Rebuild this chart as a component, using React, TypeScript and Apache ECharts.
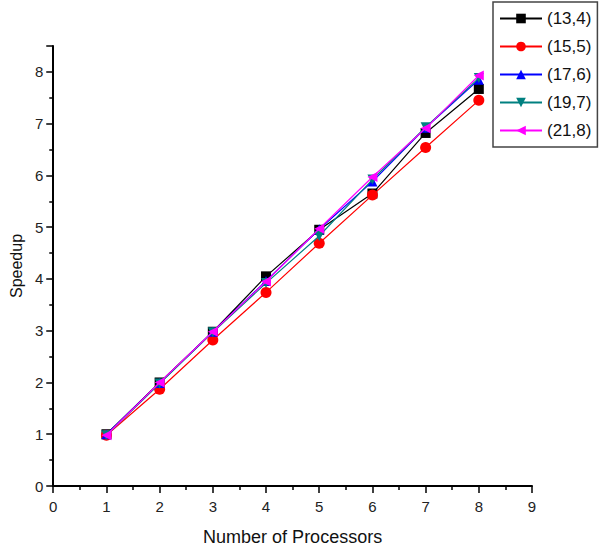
import React, { useEffect, useRef } from "react";
import * as echarts from "echarts";

const processors = [1, 2, 3, 4, 5, 6, 7, 8];
const seriesNames = ["(13,4)", "(15,5)", "(17,6)", "(19,7)", "(21,8)"];
const s13_4 = [1.0, 2.0, 2.98, 4.05, 4.95, 5.65, 6.82, 7.67];
const s15_5 = [0.98, 1.87, 2.82, 3.74, 4.69, 5.62, 6.54, 7.45];
const s17_6 = [1.0, 1.99, 2.98, 3.96, 4.96, 5.88, 6.92, 7.85];
const s19_7 = [0.98, 1.98, 2.97, 3.92, 4.83, 5.92, 6.93, 7.88];
const s21_8 = [0.98, 2.0, 2.98, 3.95, 4.97, 5.97, 6.91, 7.93];
const allValues = [s13_4, s15_5, s17_6, s19_7, s21_8];
const colors = ["#000000", "#ff0000", "#0000ff", "#008080", "#ff00ff"];
const symbols = [
  "rect",
  "circle",
  "triangle",
  "path://M0,0 L10,0 L5,9 Z",
  "path://M10,0 L10,10 L0,5 Z",
];

export default function App() {
  const ref = useRef<HTMLDivElement>(null);
  useEffect(() => {
    if (!ref.current) return;
    const chart = echarts.init(ref.current, undefined, { renderer: "svg" });
    const font = "Liberation Sans, Arial, sans-serif";
    chart.setOption({
      animation: false,
      backgroundColor: "#ffffff",
      textStyle: { fontFamily: font },
      grid: { left: 46, right: 68, top: 46, bottom: 62 },
      legend: {
        orient: "vertical",
        left: 493,
        top: 2,
        width: 104,
        padding: [8, 6, 8, 6],
        itemWidth: 42,
        itemHeight: 12,
        itemGap: 11,
        borderColor: "#444",
        borderWidth: 1.5,
        borderRadius: 0,
        textStyle: { fontSize: 17, color: "#111", fontFamily: font },
        data: seriesNames,
      },
      xAxis: {
        type: "value",
        min: 0,
        max: 9,
        interval: 1,
        name: "Number of Processors",
        nameLocation: "middle",
        nameGap: 42,
        nameTextStyle: { fontSize: 18, color: "#111", fontFamily: font },
        axisLine: { lineStyle: { color: "#000", width: 2 } },
        axisTick: { length: 7, lineStyle: { color: "#000", width: 1.5 } },
        minorTick: { show: true, splitNumber: 2, length: 4, lineStyle: { color: "#000", width: 1.5 } },
        axisLabel: { fontSize: 15, color: "#222", margin: 13, fontFamily: font },
        splitLine: { show: false },
      },
      yAxis: {
        type: "value",
        min: 0,
        max: 8.5,
        interval: 1,
        name: "Speedup",
        nameLocation: "middle",
        nameGap: 27,
        nameRotate: 90,
        nameTextStyle: { fontSize: 16, color: "#111", fontFamily: font },
        axisLine: { show: true, lineStyle: { color: "#000", width: 2 } },
        axisTick: { show: true, length: 7, lineStyle: { color: "#000", width: 1.5 } },
        minorTick: { show: true, splitNumber: 2, length: 4, lineStyle: { color: "#000", width: 1.5 } },
        axisLabel: {
          fontSize: 15,
          color: "#222",
          margin: 10,
          fontFamily: font,
          showMaxLabel: false,
          formatter: (v: number) => (Number.isInteger(v) ? String(v) : ""),
        },
        splitLine: { show: false },
      },
      series: seriesNames.map((name, i) => ({
        name,
        type: "line",
        data: processors.map((p, j) => [p, allValues[i][j]]),
        symbol: symbols[i],
        symbolSize: i === 1 ? 11 : 10,
        showAllSymbol: true,
        color: colors[i],
        lineStyle: { color: colors[i], width: 1.2 },
        itemStyle: { color: colors[i] },
        z: 2 + i,
      })),
    });
    return () => chart.dispose();
  }, []);
  return <div ref={ref} style={{ width: 600, height: 551, position: "absolute", left: 0, top: 0 }} />;
}
